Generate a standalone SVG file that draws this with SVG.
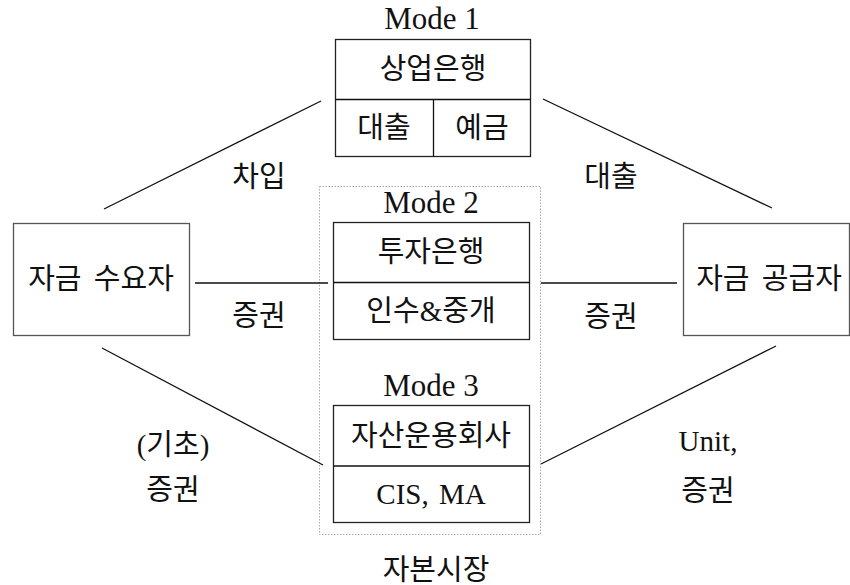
<svg xmlns="http://www.w3.org/2000/svg" width="850" height="585" viewBox="0 0 850 585">
<style>
text{font-family:"Liberation Serif","Noto Sans CJK KR",serif;font-size:29px;fill:#111;text-anchor:middle}
.m{font-size:31px}
.c{dominant-baseline:central}
.box{fill:#fff;stroke:#555;stroke-width:1.3}
.mbox{fill:none;stroke:#222;stroke-width:1.3}
.div{stroke:#111;stroke-width:1.3}
.conn line{stroke:#111;stroke-width:1.3}
.dot{fill:none;stroke:#aaa;stroke-width:1;stroke-dasharray:1.5,1.5}
</style>
<rect id="capital-market" class="dot" x="319.5" y="186.5" width="221" height="348"/>
<g class="conn">
<line x1="104" y1="209" x2="321" y2="101"/>
<line x1="543" y1="99" x2="772" y2="208"/>
<line x1="195" y1="283" x2="328" y2="283"/>
<line x1="541" y1="283" x2="677" y2="283"/>
<line x1="102" y1="348" x2="323" y2="465"/>
<line x1="541" y1="464" x2="776" y2="346"/>
</g>
<g id="mode1">
<text class="m" x="432" y="29">Mode 1</text>
<rect class="mbox" x="335.5" y="39.5" width="195" height="117"/>
<line class="div" x1="335.5" y1="99.5" x2="530.5" y2="99.5"/>
<line class="div" x1="433.5" y1="99.5" x2="433.5" y2="156.5"/>
<text class="c" x="433" y="69">상업은행</text>
<text class="c" x="384" y="128">대출</text>
<text class="c" x="482" y="128">예금</text>
</g>
<g id="mode2">
<text class="m" x="431" y="213">Mode 2</text>
<rect class="mbox" x="333.5" y="222.5" width="196" height="117"/>
<line class="div" x1="333.5" y1="282.5" x2="530" y2="282.5"/>
<text class="c" x="431" y="252">투자은행</text>
<text class="c" x="431" y="311">인수&amp;중개</text>
</g>
<g id="mode3">
<text class="m" x="431" y="396">Mode 3</text>
<rect class="mbox" x="333.5" y="405.5" width="196" height="117"/>
<line class="div" x1="333.5" y1="466" x2="530" y2="466"/>
<text class="c" x="431" y="436">자산운용회사</text>
<text class="c" x="431" y="494" word-spacing="3">CIS, MA</text>
</g>
<g id="demander">
<rect class="box" x="13.5" y="223.5" width="176" height="112"/>
<text class="c" x="101" y="279" word-spacing="5">자금 수요자</text>
</g>
<g id="supplier">
<rect class="box" x="683.5" y="223.5" width="166" height="112"/>
<text class="c" x="769" y="279" word-spacing="5">자금 공급자</text>
</g>
<g id="labels">
<text class="c" x="259" y="177">차입</text>
<text class="c" x="611" y="177">대출</text>
<text class="c" x="259" y="316">증권</text>
<text class="c" x="611" y="317">증권</text>
<text class="c" x="173" y="445">(기초)</text>
<text class="c" x="173" y="490">증권</text>
<text x="708" y="451">Unit,</text>
<text class="c" x="708" y="491">증권</text>
<text class="c" x="436" y="570">자본시장</text>
</g>
</svg>
